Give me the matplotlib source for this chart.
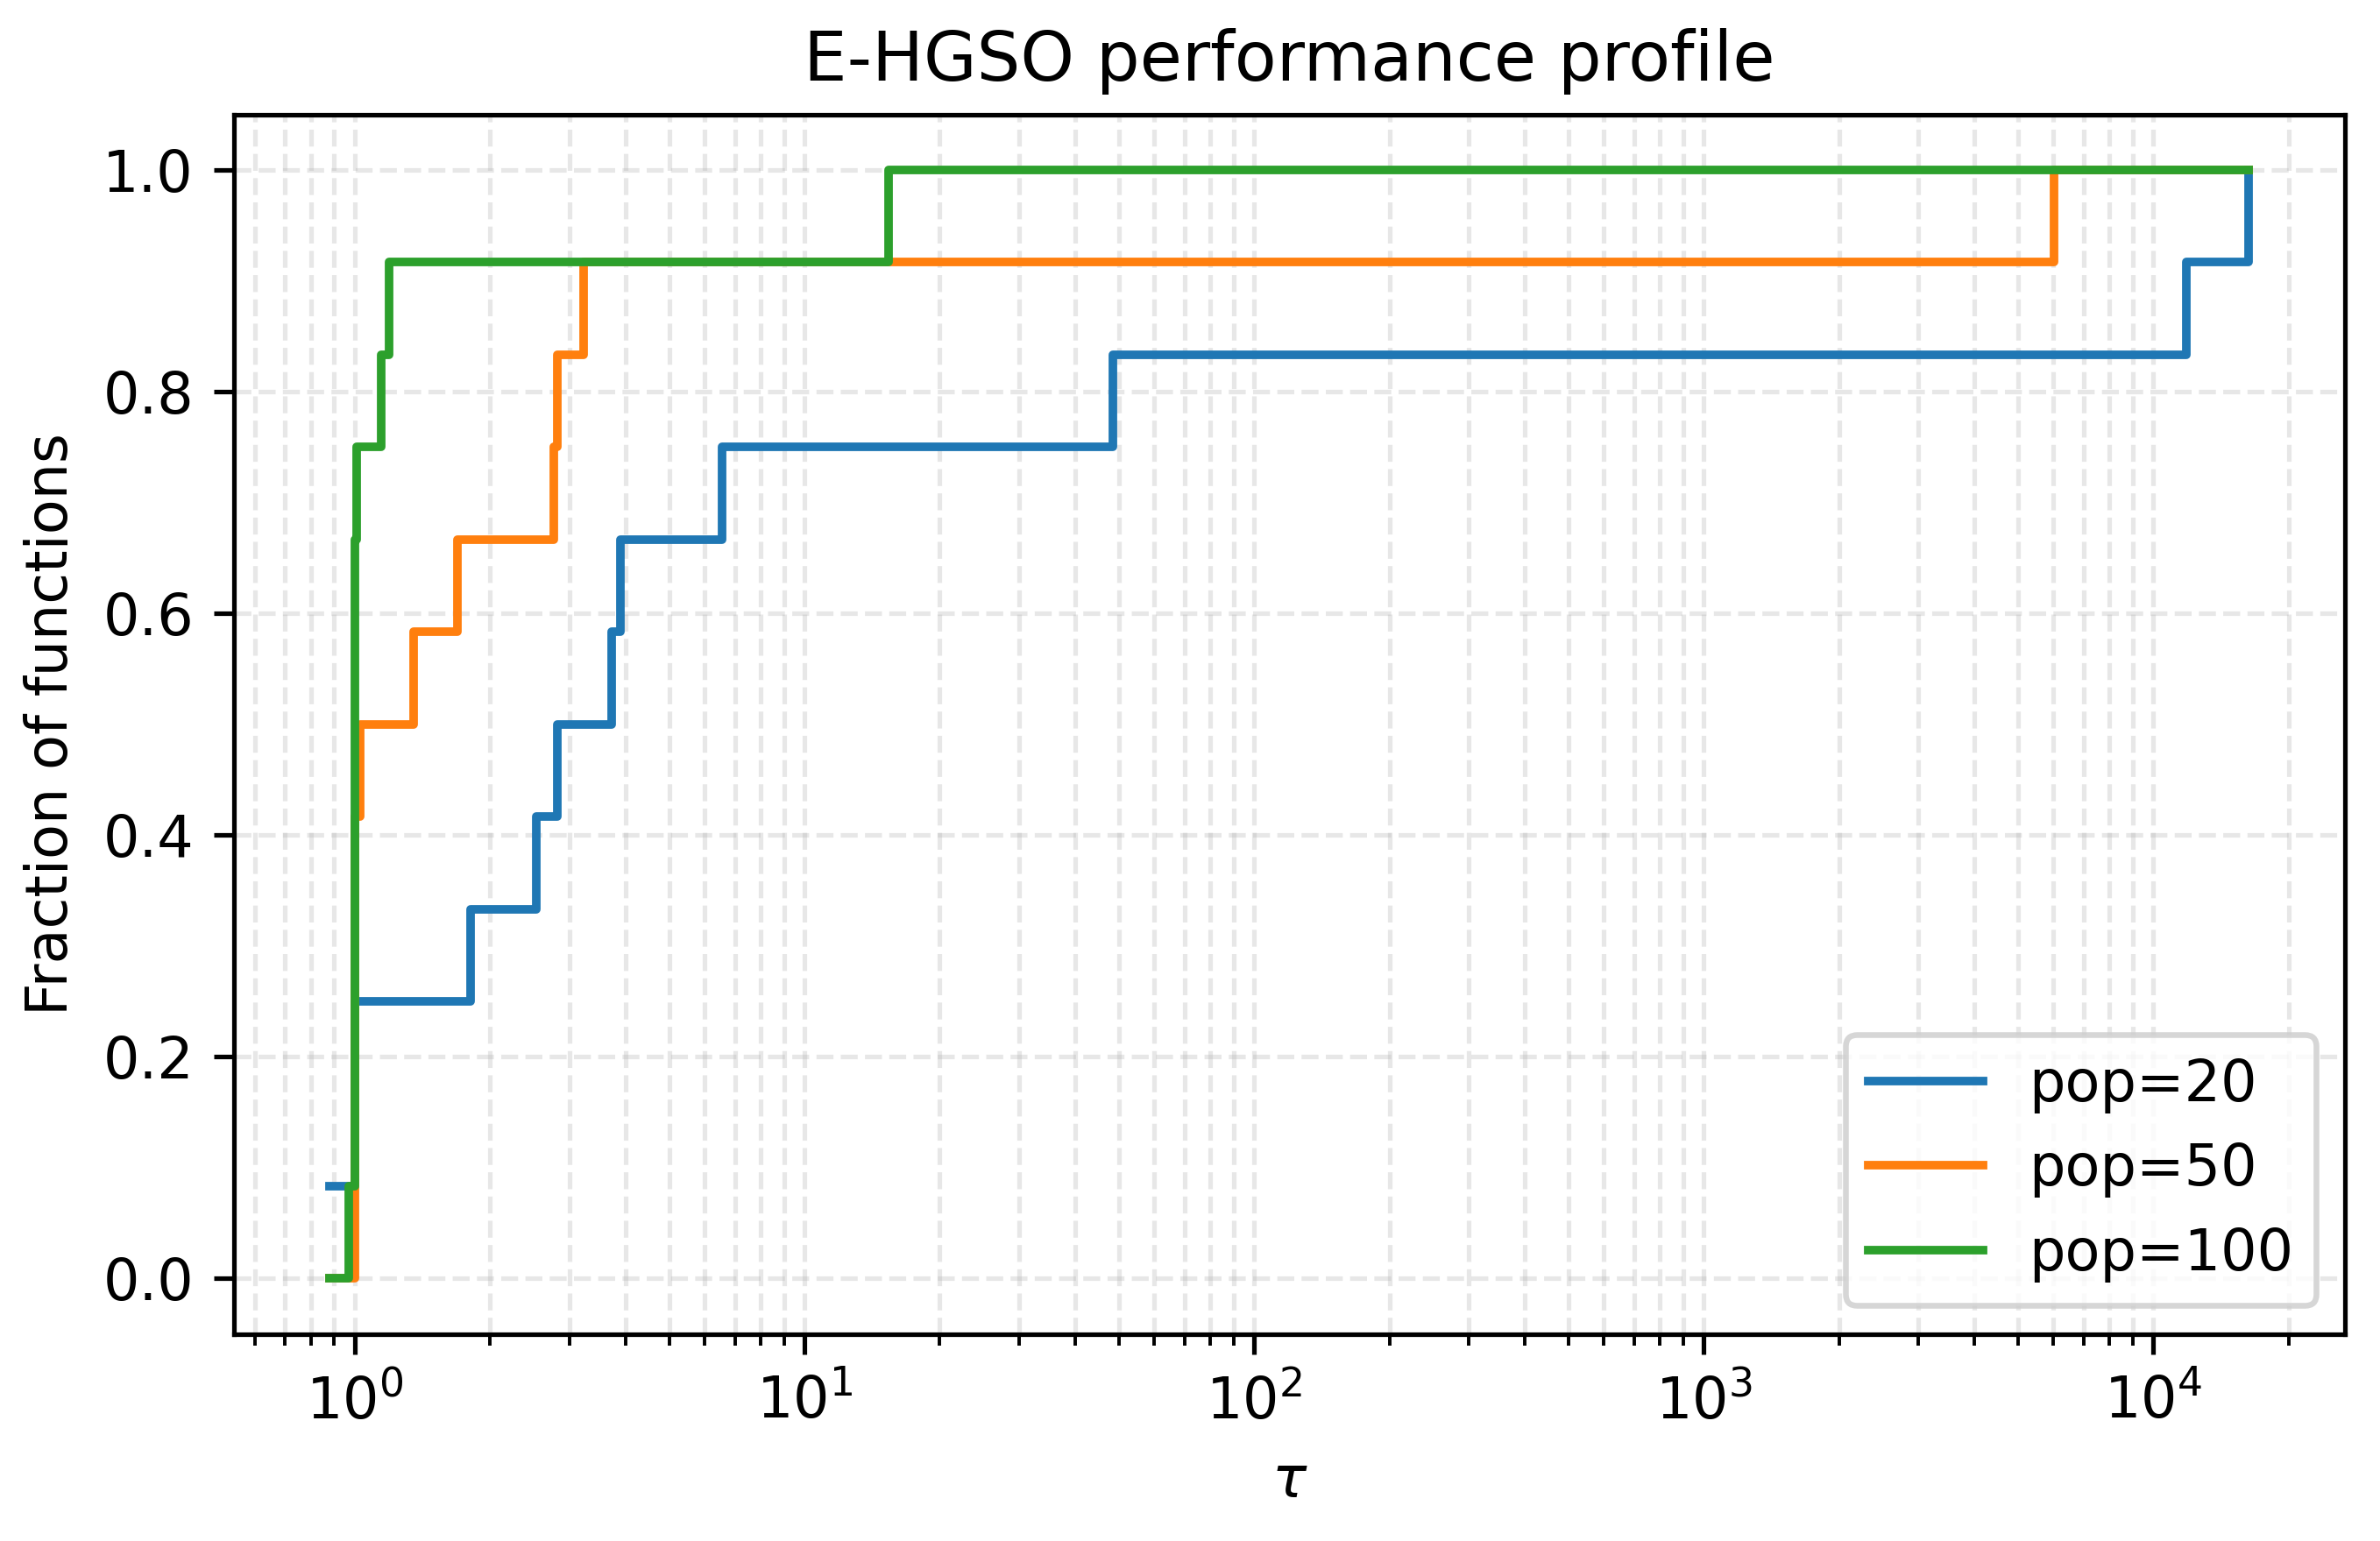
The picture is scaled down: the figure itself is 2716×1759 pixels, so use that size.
import matplotlib
matplotlib.use("Agg")
import matplotlib.pyplot as plt

# Data (tau, fraction) step points
tau_pop20 = [0.879, 1.0, 1.81, 2.53, 2.82, 3.73, 3.89, 6.57, 48.5, 11840, 16330]
rho_pop20 = [1/12, 3/12, 4/12, 5/12, 6/12, 7/12, 8/12, 9/12, 10/12, 11/12, 12/12]

tau_pop50 = [0.879, 1.0, 1.028, 1.353, 1.69, 2.77, 2.82, 3.23, 6015, 16330]
rho_pop50 = [0/12, 5/12, 6/12, 7/12, 8/12, 9/12, 10/12, 11/12, 12/12, 12/12]

tau_pop100 = [0.879, 0.97, 1.0, 1.01, 1.144, 1.19, 15.4, 16330]
rho_pop100 = [0/12, 1/12, 8/12, 9/12, 10/12, 11/12, 12/12, 12/12]

labels = ["pop=20", "pop=50", "pop=100"]
title = "E-HGSO performance profile"
xlabel = r"$\tau$"
ylabel = "Fraction of functions"

DPI = 470
fig = plt.figure(figsize=(2716 / DPI, 1759 / DPI), dpi=DPI)
ax = fig.add_axes([0.0982, 0.13433, 0.98527 - 0.0982, 0.92570 - 0.13433])

ax.step(tau_pop20, rho_pop20, where="post", label=labels[0])
ax.step(tau_pop50, rho_pop50, where="post", label=labels[1])
ax.step(tau_pop100, rho_pop100, where="post", label=labels[2])

ax.set_xscale("log")
ax.set_title(title)
ax.set_xlabel(xlabel)
ax.set_ylabel(ylabel)
ax.grid(True, which="both", linestyle="--", alpha=0.3)
ax.legend(loc="lower right")

fig.savefig("out.png", dpi=DPI)
